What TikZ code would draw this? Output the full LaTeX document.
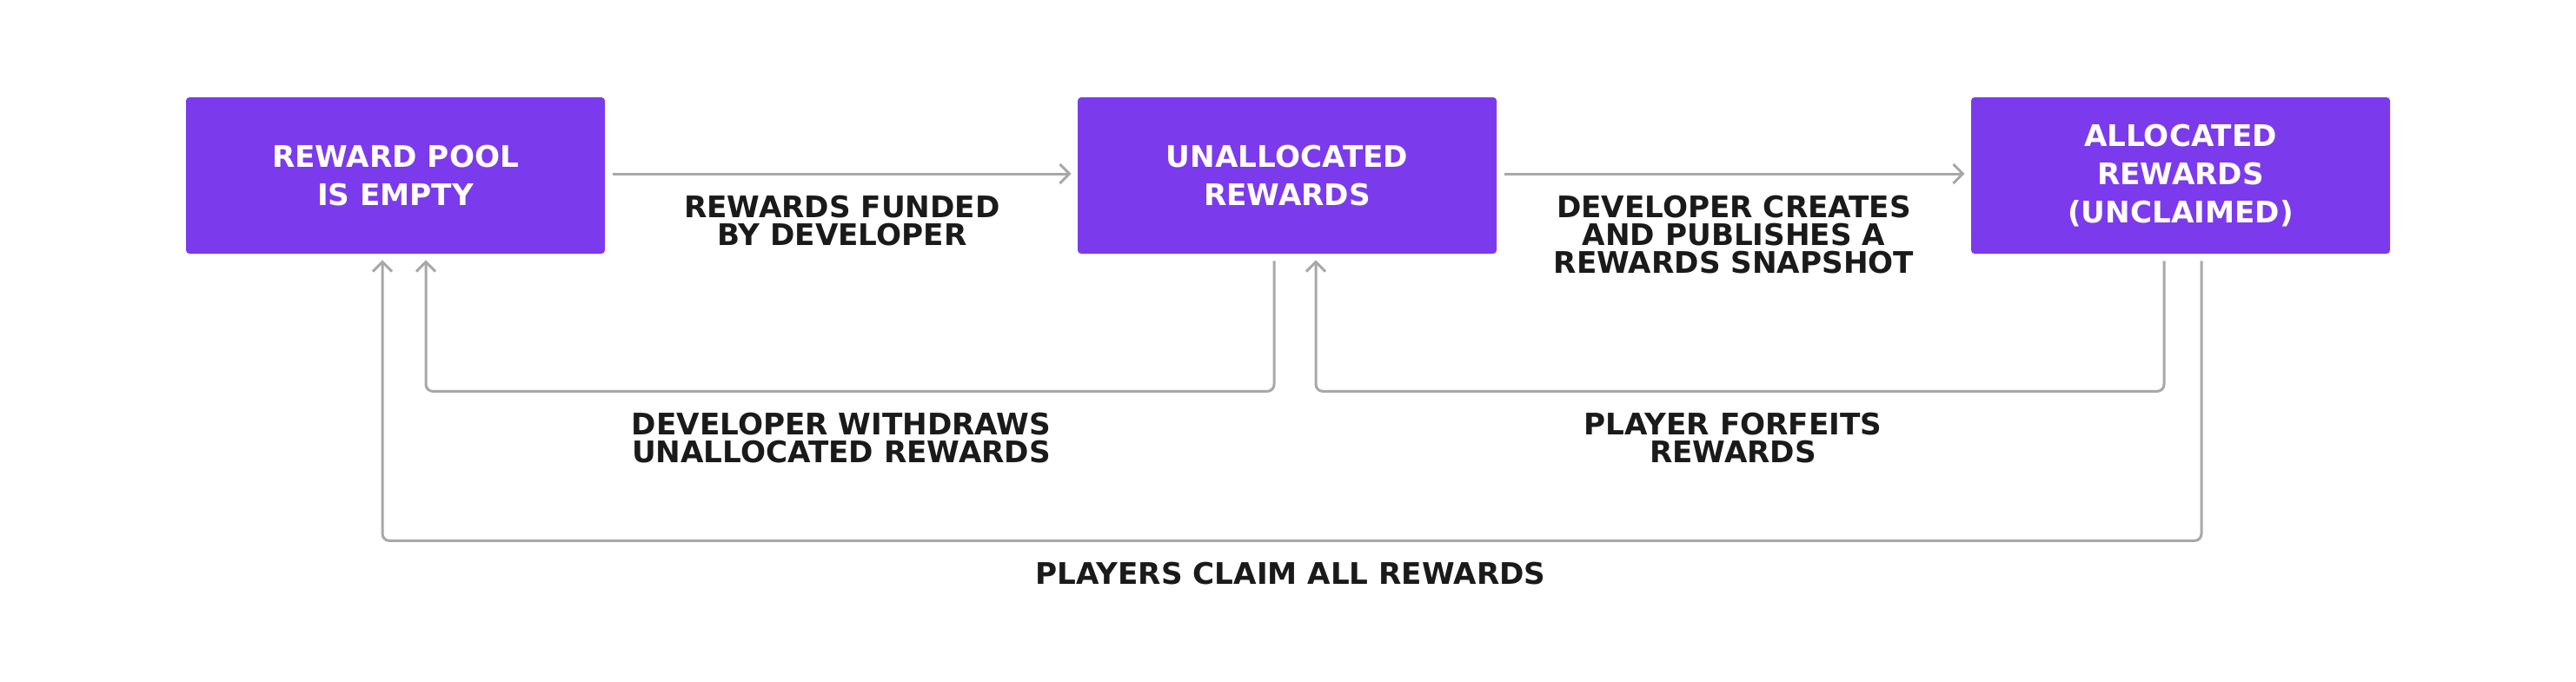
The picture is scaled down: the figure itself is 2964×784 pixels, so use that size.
\documentclass[tikz,border=0pt]{standalone}
\usepackage{fontspec}
\setmainfont{DejaVu Sans}
\usetikzlibrary{arrows.meta,calc}
\definecolor{boxpurple}{HTML}{7C3AED}
\definecolor{linegray}{HTML}{A8A8A8}
\definecolor{labelink}{HTML}{1A1A1A}
\tikzset{
  statebox/.style={fill=boxpurple, rounded corners=2pt, minimum width=241pt, minimum height=90pt,
    inner sep=0pt, text=white, align=center, font=\fontsize{17.1}{22}\selectfont\bfseries},
  edgelabel/.style={inner sep=0pt, text=labelink, align=center, anchor=north,
    font=\fontsize{17.1}{16}\selectfont\bfseries},
  arr/.style={draw=linegray, line width=1.5pt, rounded corners=4pt,
    -{Straight Barb[length=5.5pt,width=11pt,line width=1.5pt]}}
}
\begin{document}
\begin{tikzpicture}[x=0.5pt,y=-0.5pt]
\useasboundingbox (0,0) rectangle (2964,784);
\node[statebox] (b1) at (455,202) {REWARD POOL\\IS EMPTY};
\node[statebox] (b2) at (1481,202) {UNALLOCATED\\REWARDS};
\node[statebox] (b3) at (2509,202) {ALLOCATED\\REWARDS\\(UNCLAIMED)};

\draw[arr] ($(b1.east)+(9,-2)$) -- ($(b2.west)+(-7,-2)$);
\draw[arr] ($(b2.east)+(9,-2)$) -- ($(b3.west)+(-7,-2)$);

\draw[arr] ($(b2.south)+(-15,8)$) -- ++(0,150) -| ($(b1.south)+(35,7)$);
\draw[arr] ($(b3.south)+(-19,8)$) -- ++(0,150) -| ($(b2.south)+(33,7)$);
\draw[arr] ($(b3.south)+(24,8)$) -- ++(0,322) -| ($(b1.south)+(-15,7)$);

\node[edgelabel] (l1) at (969,225) {REWARDS FUNDED\\BY DEVELOPER};
\node[edgelabel] (l2) at (1995,225) {DEVELOPER CREATES\\AND PUBLISHES A\\REWARDS SNAPSHOT};
\node[edgelabel] (l3) at (968,475) {DEVELOPER WITHDRAWS\\UNALLOCATED REWARDS};
\node[edgelabel] (l4) at (1994,475) {PLAYER FORFEITS\\REWARDS};
\node[edgelabel] (l5) at (1485,647) {PLAYERS CLAIM ALL REWARDS};
\end{tikzpicture}
\end{document}
